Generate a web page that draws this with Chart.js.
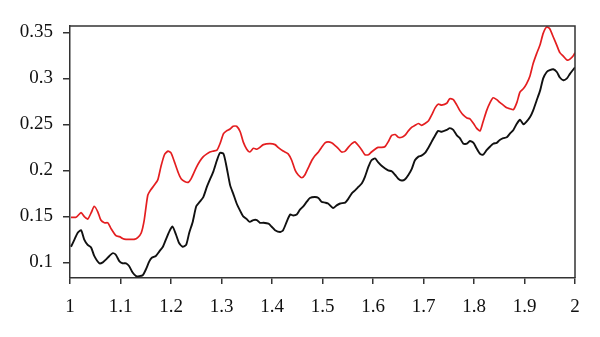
<!DOCTYPE html>
<html>
<head>
<meta charset="utf-8">
<script src="https://cdn.jsdelivr.net/npm/chart.js@4/dist/chart.umd.min.js"></script>
<style>
  html, body { margin: 0; padding: 0; background: #fff; }
  #wrap { width: 600px; height: 337px; }
</style>
</head>
<body>
<div id="wrap"><canvas id="chart" width="600" height="337"></canvas></div>
<script>
// values
const redX = [1.002,1.012,1.022,1.028,1.035,1.042,1.048,1.055,1.061,1.068,1.075,1.081,1.091,1.098,1.104,1.111,1.121,1.127,1.134,1.141,1.147,1.154,1.160,1.167,1.174,1.180,1.187,1.194,1.200,1.207,1.214,1.220,1.227,1.234,1.240,1.250,1.257,1.264,1.271,1.277,1.284,1.291,1.297,1.304,1.310,1.317,1.323,1.330,1.337,1.343,1.350,1.356,1.363,1.370,1.376,1.383,1.396,1.406,1.412,1.422,1.432,1.439,1.446,1.452,1.459,1.465,1.472,1.479,1.485,1.492,1.498,1.505,1.511,1.518,1.525,1.531,1.538,1.545,1.551,1.558,1.564,1.571,1.578,1.584,1.591,1.597,1.604,1.610,1.617,1.624,1.630,1.637,1.644,1.650,1.657,1.663,1.670,1.677,1.683,1.690,1.696,1.703,1.710,1.716,1.723,1.729,1.736,1.746,1.752,1.759,1.766,1.772,1.779,1.786,1.792,1.799,1.805,1.812,1.818,1.825,1.832,1.838,1.845,1.851,1.858,1.865,1.871,1.878,1.885,1.891,1.898,1.904,1.911,1.917,1.924,1.931,1.937,1.944,1.950,1.957,1.964,1.970,1.977,1.984,1.990,1.997,2.000];
const redY = [0.149,0.149,0.154,0.150,0.147,0.154,0.161,0.155,0.146,0.143,0.143,0.137,0.129,0.128,0.126,0.125,0.125,0.125,0.127,0.132,0.146,0.173,0.179,0.184,0.190,0.204,0.217,0.221,0.219,0.209,0.198,0.191,0.188,0.187,0.191,0.203,0.210,0.215,0.218,0.220,0.221,0.222,0.229,0.240,0.243,0.245,0.248,0.248,0.242,0.231,0.223,0.220,0.224,0.223,0.225,0.228,0.229,0.228,0.225,0.221,0.218,0.211,0.200,0.195,0.192,0.195,0.203,0.211,0.216,0.220,0.225,0.230,0.231,0.230,0.227,0.224,0.220,0.221,0.225,0.229,0.231,0.227,0.222,0.217,0.217,0.220,0.223,0.225,0.225,0.226,0.231,0.238,0.239,0.236,0.236,0.238,0.243,0.247,0.249,0.251,0.249,0.251,0.254,0.260,0.268,0.272,0.271,0.273,0.278,0.277,0.271,0.265,0.260,0.257,0.256,0.251,0.246,0.243,0.253,0.265,0.274,0.279,0.277,0.274,0.271,0.268,0.267,0.266,0.274,0.285,0.289,0.294,0.303,0.316,0.327,0.337,0.349,0.356,0.354,0.345,0.336,0.328,0.324,0.320,0.321,0.325,0.328];

const blackX = [1.002,1.009,1.015,1.022,1.028,1.035,1.042,1.048,1.058,1.065,1.071,1.078,1.085,1.091,1.098,1.104,1.111,1.117,1.124,1.131,1.137,1.144,1.150,1.157,1.162,1.170,1.177,1.184,1.190,1.197,1.203,1.210,1.216,1.223,1.230,1.236,1.243,1.250,1.257,1.264,1.271,1.277,1.284,1.291,1.297,1.304,1.310,1.317,1.323,1.330,1.337,1.343,1.350,1.356,1.363,1.370,1.376,1.383,1.393,1.399,1.406,1.416,1.422,1.429,1.436,1.442,1.449,1.455,1.462,1.469,1.475,1.485,1.492,1.498,1.505,1.511,1.521,1.528,1.535,1.545,1.551,1.558,1.564,1.571,1.578,1.584,1.591,1.597,1.604,1.610,1.617,1.624,1.630,1.637,1.644,1.650,1.657,1.663,1.670,1.677,1.683,1.690,1.696,1.703,1.710,1.716,1.723,1.729,1.736,1.746,1.752,1.759,1.766,1.772,1.779,1.786,1.792,1.799,1.805,1.812,1.818,1.825,1.832,1.838,1.845,1.851,1.858,1.865,1.871,1.878,1.885,1.891,1.898,1.904,1.911,1.917,1.924,1.931,1.937,1.944,1.950,1.957,1.964,1.970,1.977,1.984,1.990,1.997,2.000];
const blackY = [0.117,0.125,0.132,0.135,0.125,0.119,0.116,0.107,0.099,0.100,0.103,0.107,0.110,0.108,0.101,0.099,0.099,0.096,0.089,0.085,0.085,0.086,0.092,0.101,0.105,0.107,0.112,0.117,0.125,0.134,0.139,0.130,0.121,0.117,0.119,0.132,0.144,0.161,0.166,0.171,0.182,0.190,0.199,0.211,0.219,0.218,0.204,0.184,0.175,0.164,0.156,0.150,0.147,0.144,0.146,0.146,0.143,0.143,0.142,0.139,0.135,0.133,0.135,0.144,0.152,0.151,0.152,0.157,0.161,0.166,0.170,0.171,0.170,0.166,0.165,0.164,0.159,0.162,0.164,0.165,0.169,0.175,0.178,0.182,0.186,0.193,0.204,0.211,0.213,0.209,0.205,0.202,0.200,0.199,0.195,0.191,0.189,0.190,0.195,0.202,0.211,0.215,0.216,0.219,0.225,0.231,0.238,0.243,0.242,0.244,0.246,0.244,0.238,0.235,0.229,0.229,0.232,0.230,0.224,0.218,0.217,0.222,0.226,0.229,0.230,0.233,0.235,0.236,0.240,0.244,0.251,0.255,0.250,0.253,0.258,0.265,0.276,0.287,0.300,0.307,0.309,0.310,0.307,0.301,0.298,0.300,0.305,0.310,0.312];

const xTicks = { min: 1, max: 2, step: 0.1 };
const yTicks = { min: 0.083, max: 0.357, step: 0.05 };

const axisColor = "#333";
const tickFont = { family: "'Liberation Serif', 'DejaVu Serif', serif", size: 19 };

function pairs(xs, ys) {
  return xs.map((x, i) => ({ x: x, y: ys[i] }));
}

function fmt(v) {
  return String(Number(v.toFixed(2)));
}

// top and right sides of the frame
const frame = {
  id: "frame",
  afterDraw(chart) {
    const { ctx, chartArea } = chart;
    ctx.save();
    ctx.strokeStyle = axisColor;
    ctx.lineWidth = 1.5;
    ctx.beginPath();
    ctx.moveTo(chartArea.left, chartArea.top);
    ctx.lineTo(chartArea.right, chartArea.top);
    ctx.lineTo(chartArea.right, chartArea.bottom);
    ctx.stroke();
    ctx.restore();
  },
};

new Chart(document.getElementById("chart"), {
  type: "line",
  data: {
    datasets: [
      {
        data: pairs(redX, redY),
        borderColor: "rgb(228, 30, 32)",
        borderWidth: 1.7,
        pointRadius: 0,
        tension: 0.2,
      },
      {
        data: pairs(blackX, blackY),
        borderColor: "#111",
        borderWidth: 1.9,
        pointRadius: 0,
        tension: 0.2,
      },
    ],
  },
  options: {
    responsive: false,
    animation: false,
    devicePixelRatio: 1,
    layout: { padding: { left: 0, right: 25, top: 26, bottom: 0 } },
    plugins: { legend: { display: false }, tooltip: { enabled: false } },
    scales: {
      x: {
        type: "linear",
        min: xTicks.min,
        max: xTicks.max,
        afterFit: (s) => { s.height = 59; },
        border: { display: true, color: axisColor, width: 1.5 },
        grid: { drawOnChartArea: false, drawTicks: true, tickLength: 6, color: axisColor, lineWidth: 1.5 },
        ticks: {
          stepSize: xTicks.step,
          includeBounds: false,
          color: "#111",
          font: tickFont,
          padding: 12,
          maxRotation: 0,
          autoSkip: false,
          callback: fmt,
        },
      },
      y: {
        min: yTicks.min,
        max: yTicks.max,
        afterFit: (s) => { s.width = 70; },
        border: { display: true, color: axisColor, width: 1.5 },
        grid: { drawOnChartArea: false, drawTicks: true, tickLength: 7, color: axisColor, lineWidth: 1.5 },
        ticks: {
          stepSize: yTicks.step,
          includeBounds: false,
          color: "#111",
          font: tickFont,
          padding: 10,
          autoSkip: false,
          callback: fmt,
        },
      },
    },
  },
  plugins: [frame],
});
</script>
</body>
</html>
